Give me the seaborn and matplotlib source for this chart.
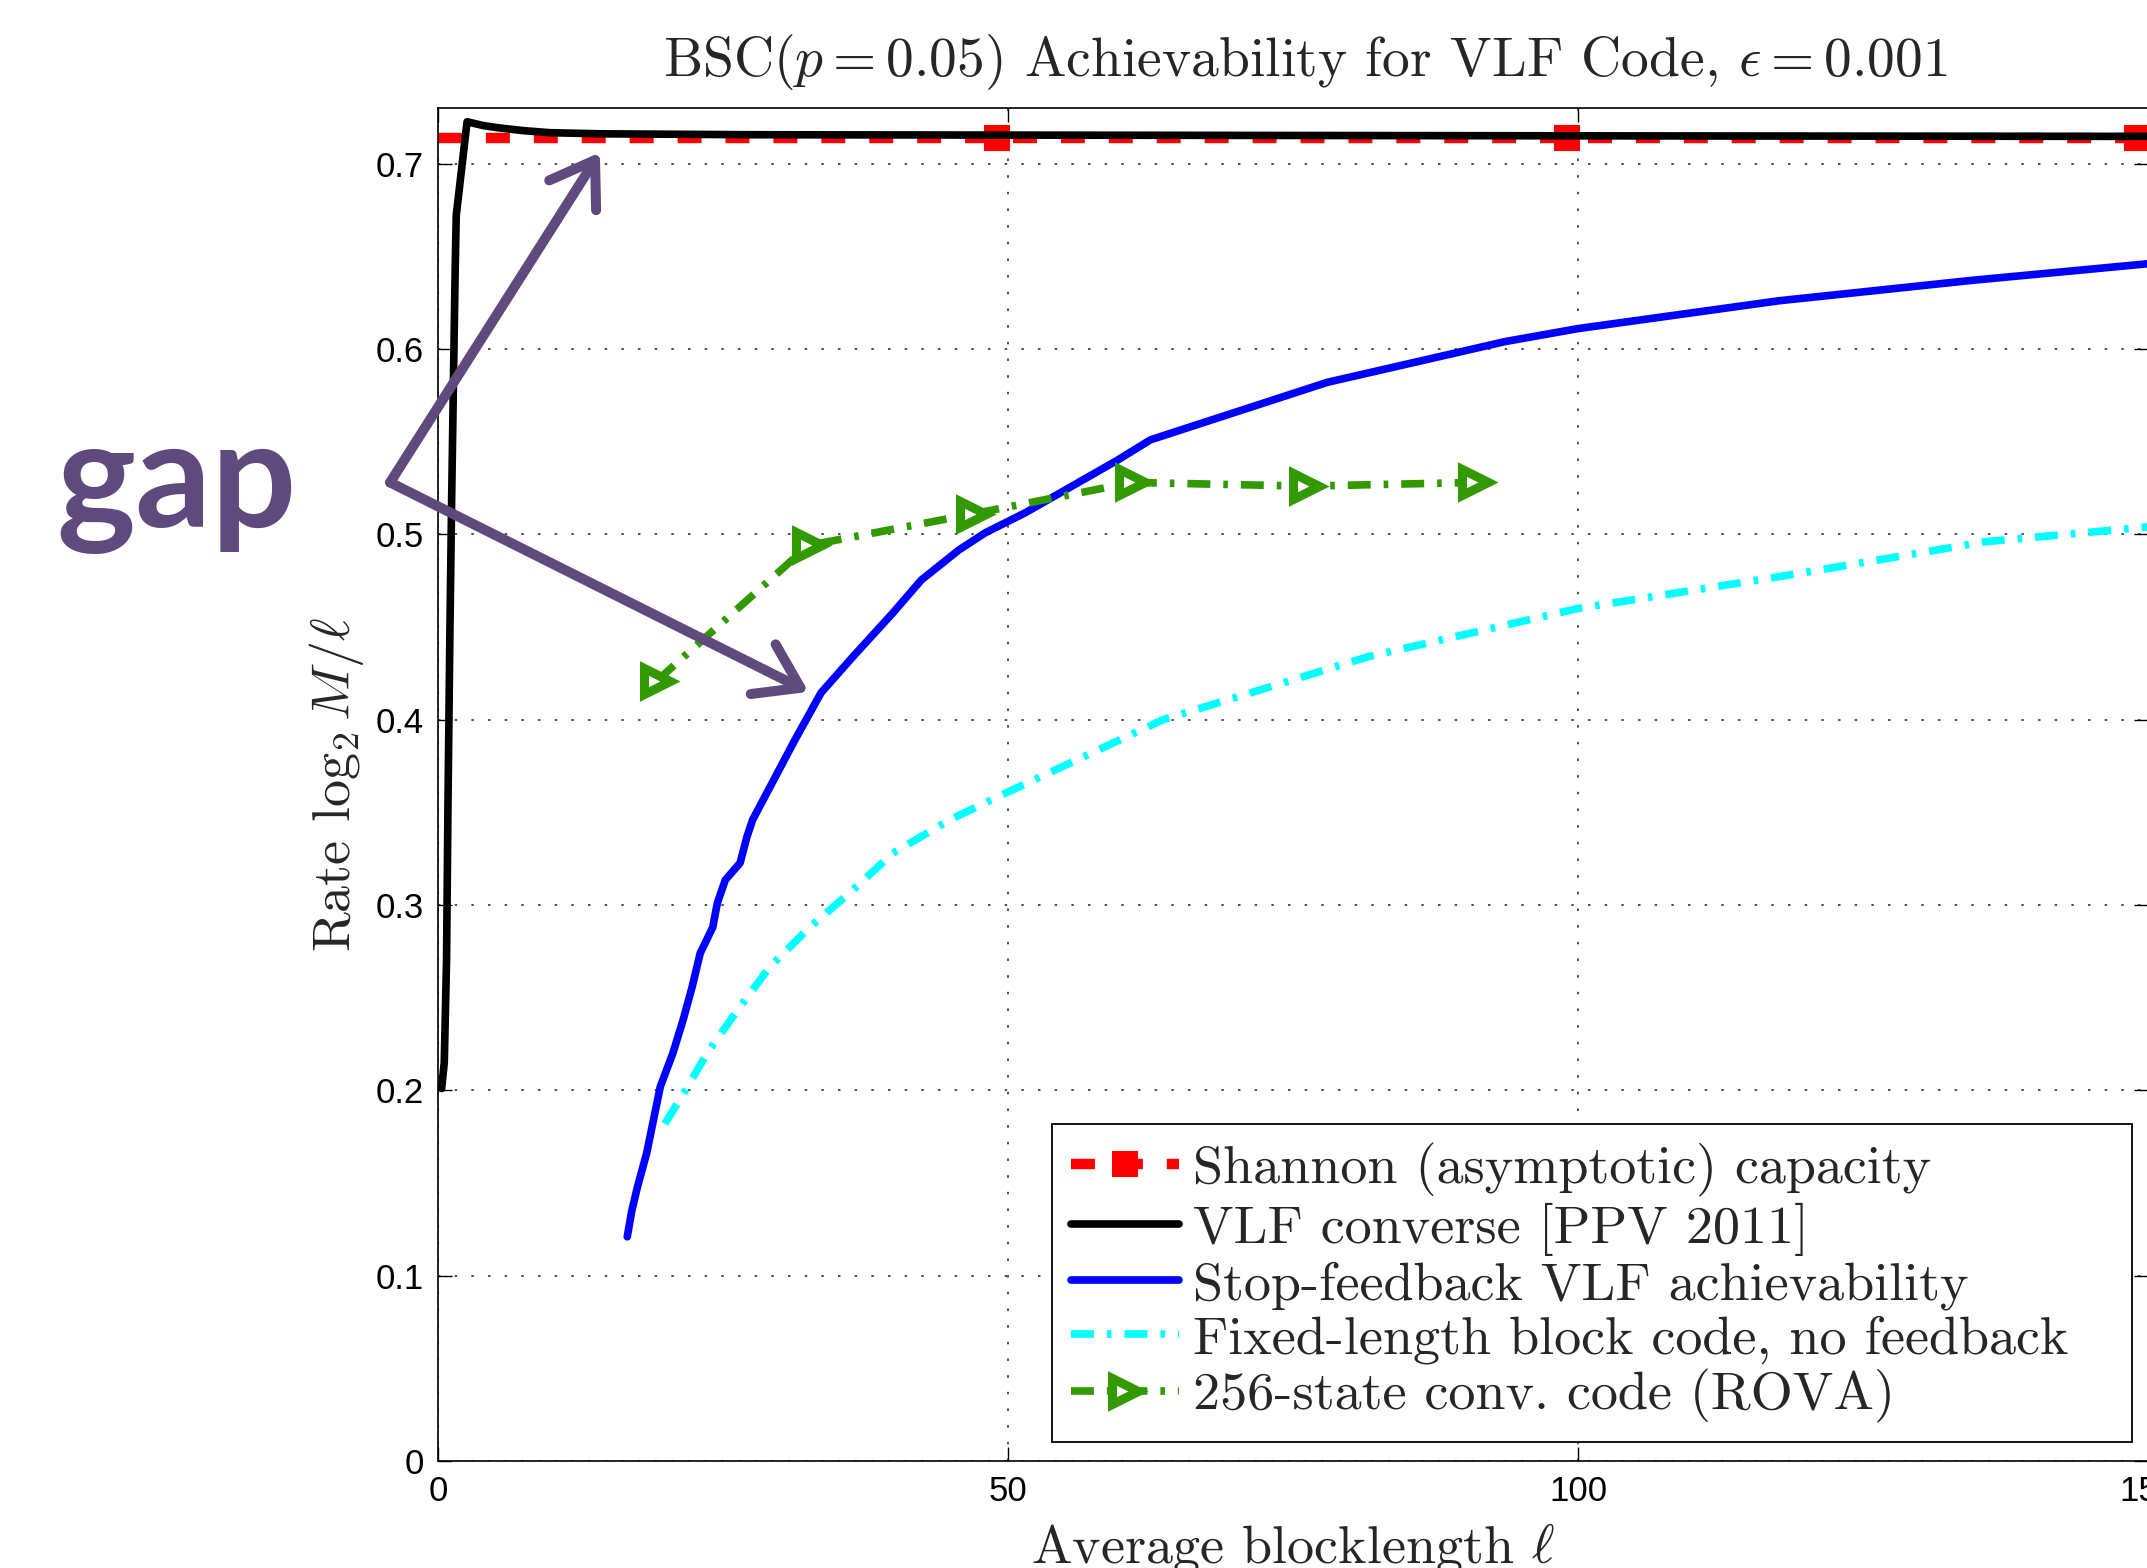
import matplotlib
matplotlib.use('Agg')
import matplotlib.pyplot as plt
import seaborn as sns

# values
cap_x = [0, 49, 99, 149, 150]
cap_y = [0.7136, 0.7136, 0.7136, 0.7136, 0.7136]
cap_marks = [1, 2, 3]

conv_x = [0.32, 0.55, 0.75, 0.88, 1.05, 1.2, 1.35, 1.5, 1.6, 2.55, 4.0, 5.2,
          7.5, 9.8, 14.2, 27.4, 50, 100, 150]
conv_y = [0.201, 0.215, 0.27, 0.357, 0.45, 0.52, 0.58, 0.64, 0.672, 0.7226,
          0.7205, 0.7194, 0.7178, 0.7167, 0.7161, 0.7156, 0.7154, 0.7150, 0.7147]

sf_x = [16.6, 17.0, 17.5, 18.3, 18.9, 19.5, 20.6, 21.5, 22.3, 23.0, 24.1, 24.5,
        25.2, 26.5, 27.1, 27.6, 31.3, 33.6, 36.4, 39.9, 42.4, 45.7, 48.0, 51.5,
        55.5, 59.6, 62.5, 78.0, 93.6, 100, 117.6, 134.5, 150]
sf_y = [0.121, 0.135, 0.148, 0.166, 0.184, 0.202, 0.220, 0.238, 0.256, 0.274,
        0.288, 0.301, 0.3135, 0.3227, 0.3368, 0.346, 0.389, 0.4145, 0.434,
        0.4576, 0.4754, 0.4916, 0.5008, 0.5116, 0.5256, 0.540, 0.551, 0.582,
        0.604, 0.611, 0.626, 0.637, 0.646]

fl_x = [19.9, 21.7, 23.6, 26.1, 29.1, 32.6, 36.1, 39.9, 44.9, 50, 63.6, 81.6,
        100, 119.5, 135.7, 150]
fl_y = [0.182, 0.200, 0.220, 0.2418, 0.2666, 0.288, 0.3065, 0.328, 0.346, 0.361,
        0.400, 0.434, 0.460, 0.479, 0.496, 0.504]

rova_x = [19.2, 32.5, 46.9, 60.9, 76.1, 91.0]
rova_y = [0.421, 0.494, 0.511, 0.528, 0.526, 0.528]

labels = ['Shannon (asymptotic) capacity',
          'VLF converse [PPV 2011]',
          'Stop-feedback VLF achievability',
          'Fixed-length block code, no feedback',
          '256-state conv. code (ROVA)']

title = r'BSC($p = 0.05$) Achievability for VLF Code, $\epsilon = 0.001$'
xlabel = r'Average blocklength $\ell$'
ylabel = r'Rate $\log_2 M/\ell$'

xticks = [0, 50, 100, 150]
yticks = [0, 0.1, 0.2, 0.3, 0.4, 0.5, 0.6, 0.7]
ytick_labels = ['0', '0.1', '0.2', '0.3', '0.4', '0.5', '0.6', '0.7']

# "gap" callout: common start point and two arrow tips (data coords)
gap_start = (-4.2, 0.528)
gap_tips = [(14.2, 0.706), (32.5, 0.415)]
purple = '#5f4a7d'

sns.set_style('ticks')
plt.rcParams['font.family'] = ['Liberation Sans', 'DejaVu Sans']
plt.rcParams['mathtext.fontset'] = 'cm'

fig = plt.figure(figsize=(21.47, 15.68), dpi=100)
ax = fig.add_axes([0.2040, 0.0682, 0.7965, 0.8629])

dashdot = (0, (3.0, 1.7, 0.6, 1.7))

sns.lineplot(x=cap_x, y=cap_y, ax=ax, color='red', lw=7.5, linestyle=(0, (2.3, 2.3)),
             marker='s', markevery=cap_marks, ms=17, mfc='red', mec='red', mew=1.5,
             errorbar=None, estimator=None, sort=False, label=labels[0])
sns.lineplot(x=conv_x, y=conv_y, ax=ax, color='black', lw=5.5,
             errorbar=None, estimator=None, sort=False, label=labels[1])
sns.lineplot(x=sf_x, y=sf_y, ax=ax, color='blue', lw=5.5,
             errorbar=None, estimator=None, sort=False, label=labels[2])
sns.lineplot(x=fl_x, y=fl_y, ax=ax, color='cyan', lw=5.5, linestyle=dashdot,
             errorbar=None, estimator=None, sort=False, label=labels[3])
sns.lineplot(x=rova_x, y=rova_y, ax=ax, color='#339900', lw=5.5, linestyle=dashdot,
             marker='>', ms=19, mfc='white', mec='#339900', mew=6.5,
             errorbar=None, estimator=None, sort=False, label=labels[4])

ax.set_xlim(0, 150)
ax.set_ylim(0, 0.73)
ax.set_xticks(xticks)
ax.set_xticklabels([str(t) for t in xticks])
ax.set_yticks(yticks)
ax.set_yticklabels(ytick_labels)
ax.tick_params(direction='in', length=10, width=1, top=True, right=True,
               labelsize=25, pad=10, colors='black')
ax.grid(True, linestyle=(0, (1.5, 8.5)), color='#333333', lw=1.2)
for s in ax.spines.values():
    s.set_color('black')
    s.set_linewidth(1.2)

ax.set_title(title, fontsize=40, fontfamily='cmr10', pad=23, x=0.507)
ax.set_xlabel(xlabel, fontsize=39, fontfamily='cmr10')
ax.xaxis.set_label_coords(0.5, -0.0747)
ax.xaxis.label.set_va('baseline')
ax.set_ylabel(ylabel, fontsize=39, fontfamily='cmr10')
ax.yaxis.set_label_coords(-0.0515, 0.5)
ax.yaxis.label.set_va('baseline')

# MATLAB-like legend box: wider than its text, anchored bottom right
leg = ax.legend(loc='lower left', bbox_to_anchor=(0.359, 0.014, 0.6316, 0.2),
                mode='expand', prop={'family': 'cmr10', 'size': 39},
                handlelength=2.0, handletextpad=0.25, borderpad=0.35,
                labelspacing=0.1, borderaxespad=0, fancybox=False,
                framealpha=1, edgecolor='black')
leg.get_frame().set_linewidth(1.3)

# annotation overlay
for tip in gap_tips:
    ax.annotate('', xy=tip, xytext=gap_start, xycoords='data',
                annotation_clip=False, zorder=10,
                arrowprops=dict(arrowstyle='->, head_length=0.6, head_width=0.4',
                                mutation_scale=50, lw=7.2, color=purple,
                                shrinkA=0, shrinkB=0, capstyle='round',
                                joinstyle='round'))
fig.text(0.0824, 0.6639, 'gap', fontsize=108, fontfamily='Lato',
         fontweight='bold', color=purple, ha='center', va='baseline')

fig.savefig('out.png', dpi=100)
